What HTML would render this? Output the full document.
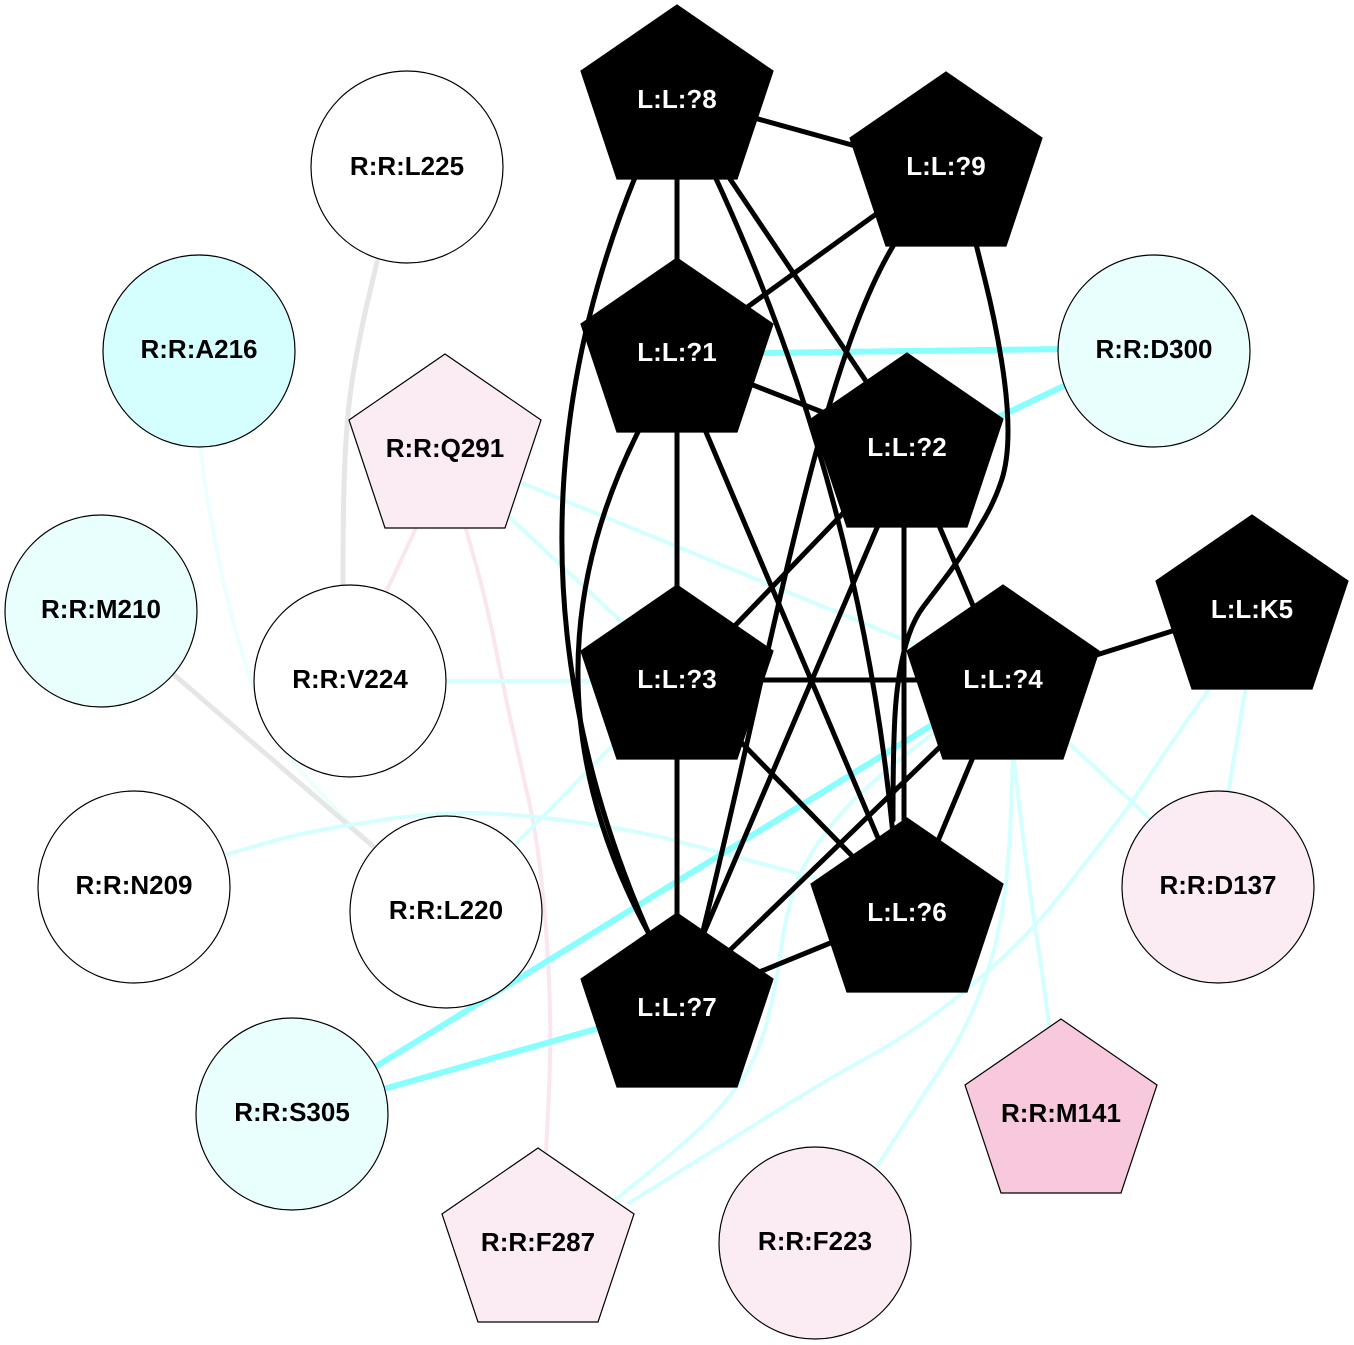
<!DOCTYPE html>
<html><head><meta charset="utf-8"><style>
html,body{margin:0;padding:0;background:#fff;}
svg{display:block;}
text{font-family:"Liberation Sans",Arial,sans-serif;font-weight:bold;font-size:26px;text-anchor:middle;}
</style></head><body>
<svg width="1354" height="1345" viewBox="0 0 1354 1345" xmlns="http://www.w3.org/2000/svg">
<rect width="1354" height="1345" fill="#fff"/>
<g fill="none" stroke-linecap="round" stroke-linejoin="round">
<!-- faint / light edges -->
<path stroke="#ecffff" stroke-width="4" d="M200,445 L203.5,472.5 Q207,500 218.5,558.5 Q230,617 249,675 Q268,733 297,766.5 Q326,800 372,845"/>
<path stroke="#e6e6e6" stroke-width="5" d="M377,262 L369.5,293.5 Q362,325 356,357.5 Q350,390 347.5,420 Q345,450 344,485 Q343,520 343,588"/>
<line stroke="#e6e6e6" stroke-width="5" x1="172" y1="673" x2="375" y2="848"/>
<line stroke="#fbe6ef" stroke-width="4" x1="418" y1="524" x2="386" y2="592"/>
<path stroke="#fbe6ef" stroke-width="4" d="M465,526 L475.5,563 Q486,600 496,650 Q506,700 514,735 Q522,770 529,801.5 Q536,833 541,876.5 Q546,920 548.5,970 Q551,1020 550,1060 Q549,1100 546,1150"/>
<line stroke="#d4ffff" stroke-width="4" x1="505" y1="476" x2="912" y2="643"/>
<line stroke="#d4ffff" stroke-width="4" x1="505" y1="513" x2="625" y2="625"/>
<line stroke="#d4ffff" stroke-width="4" x1="440" y1="681" x2="590" y2="681"/>
<line stroke="#d4ffff" stroke-width="4" x1="508" y1="852" x2="618" y2="740"/>
<path stroke="#d4ffff" stroke-width="4" d="M225,855 L262.5,844 Q300,833 340,826.5 Q380,820 400.5,817.5 Q421,815 450.5,813.5 Q480,812 520,815.5 Q560,819 603.5,826 Q647,833 682.5,842.5 Q718,852 815,878"/>
<line stroke="#d4ffff" stroke-width="4" x1="1060" y1="735" x2="1160" y2="828"/>
<line stroke="#d4ffff" stroke-width="4" x1="1247" y1="680" x2="1227" y2="800"/>
<path stroke="#d4ffff" stroke-width="4" d="M1013,750 L1017.5,790 Q1022,830 1027.5,872 Q1033,914 1037.5,942 Q1042,970 1049,1025"/>
<path stroke="#d4ffff" stroke-width="4" d="M1013,755 L1011.5,799 Q1010,843 1006.5,878 Q1003,913 995,945.5 Q987,978 973.5,1009 Q960,1040 940,1070 Q920,1100 878,1165"/>
<path stroke="#d4ffff" stroke-width="4" d="M940,728 L910,751.5 Q880,775 857.5,796.5 Q835,818 817.5,844 Q800,870 792.5,895 Q785,920 780.5,953 Q776,986 768,1018 Q760,1050 747,1071.5 Q734,1093 712,1116.5 Q690,1140 615,1200"/>
<path stroke="#d4ffff" stroke-width="4" d="M1212,685 L1191,715 Q1170,745 1149.5,776 Q1129,807 1104.5,838.5 Q1080,870 1058.5,897.5 Q1037,925 1005,955.5 Q973,986 936.5,1013 Q900,1040 867.5,1057.5 Q835,1075 782.5,1107.5 Q730,1140 629,1203"/>
<!-- strong cyan -->
<line stroke="#88ffff" stroke-width="6" x1="760" y1="353" x2="1065" y2="349"/>
<line stroke="#88ffff" stroke-width="6" x1="990" y1="421" x2="1070" y2="383"/>
<line stroke="#88ffff" stroke-width="6" x1="370" y1="1070" x2="940" y2="720"/>
<line stroke="#88ffff" stroke-width="6" x1="380" y1="1090" x2="610" y2="1025"/>
<!-- black edges -->
<g stroke="#000" stroke-width="5">
<line x1="740" y1="114" x2="870" y2="150"/>
<line x1="677" y1="170" x2="677" y2="270"/>
<path d="M636,175 Q482,552 648,932"/>
<path d="M640,428 Q512,680 648,932"/>
<path d="M712,170 Q860,487 893,835"/>
<line x1="722" y1="167" x2="880" y2="402"/>
<line x1="890" y1="204" x2="735" y2="316"/>
<path d="M898,238 C820,360 775,640 702,935"/>
<path d="M975,240 L985,280 Q995,320 1001.5,360.5 Q1008,401 1008,431 Q1008,461 1001.5,480.5 Q995,500 985,517.5 Q975,535 965,550 Q955,565 945.5,577.5 Q936,590 923.5,606.5 Q911,623 904,651.5 Q897,680 895,715 Q893,750 893,820"/>
<line x1="740" y1="380" x2="835" y2="417"/>
<line x1="677" y1="420" x2="677" y2="600"/>
<line x1="703" y1="425" x2="881" y2="845"/>
<line x1="850" y1="506" x2="725" y2="636"/>
<line x1="882" y1="516" x2="700" y2="942"/>
<line x1="904" y1="520" x2="904" y2="830"/>
<line x1="935" y1="516" x2="980" y2="622"/>
<line x1="760" y1="680" x2="920" y2="680"/>
<line x1="677" y1="750" x2="677" y2="925"/>
<line x1="735" y1="736" x2="860" y2="864"/>
<line x1="976" y1="750" x2="935" y2="848"/>
<line x1="945" y1="742" x2="726" y2="954"/>
<line x1="1090" y1="657" x2="1185" y2="627"/>
<line x1="845" y1="937" x2="752" y2="975"/>
</g>
</g>
<!-- circles -->
<g stroke="#000" stroke-width="1.2">
<circle cx="407" cy="167" r="96" fill="#ffffff"/>
<circle cx="199" cy="351" r="96" fill="#d5ffff"/>
<circle cx="1154" cy="351" r="96" fill="#e8fffe"/>
<circle cx="101" cy="611" r="96" fill="#e8fffe"/>
<circle cx="350" cy="681" r="96" fill="#ffffff"/>
<circle cx="134" cy="887" r="96" fill="#ffffff"/>
<circle cx="446" cy="912" r="96" fill="#ffffff"/>
<circle cx="1218" cy="887" r="96" fill="#fbebf3"/>
<circle cx="292" cy="1114" r="96" fill="#e8fffe"/>
<circle cx="815" cy="1243" r="96" fill="#fbebf3"/>
<!-- pentagons -->
<polygon fill="#000" points="677,5 773,71 737,179 617,179 581,71"/>
<polygon fill="#000" points="946,72 1042,138 1006,246 886,246 850,138"/>
<polygon fill="#000" points="677,258 773,324 737,432 617,432 581,324"/>
<polygon fill="#000" points="907,353 1003,419 967,527 847,527 811,419"/>
<polygon fill="#fbebf3" points="445,354 541,420 505,528 385,528 349,420"/>
<polygon fill="#000" points="677,585 773,651 737,759 617,759 581,651"/>
<polygon fill="#000" points="1003,585 1099,651 1063,759 943,759 907,651"/>
<polygon fill="#000" points="1252,515 1348,581 1312,689 1192,689 1156,581"/>
<polygon fill="#000" points="907,818 1003,884 967,992 847,992 811,884"/>
<polygon fill="#000" points="677,913 773,979 737,1087 617,1087 581,979"/>
<polygon fill="#f8c8dc" points="1061,1019 1157,1085 1121,1193 1001,1193 965,1085"/>
<polygon fill="#fbebf3" points="538,1148 634,1214 598,1322 478,1322 442,1214"/>
</g>
<!-- labels -->
<g fill="#000">
<text x="407" y="175">R:R:L225</text>
<text x="199" y="358">R:R:A216</text>
<text x="1154" y="358">R:R:D300</text>
<text x="101" y="618">R:R:M210</text>
<text x="350" y="688">R:R:V224</text>
<text x="134" y="894">R:R:N209</text>
<text x="446" y="919">R:R:L220</text>
<text x="1218" y="894">R:R:D137</text>
<text x="292" y="1121">R:R:S305</text>
<text x="815" y="1250">R:R:F223</text>
<text x="445" y="457">R:R:Q291</text>
<text x="1061" y="1122">R:R:M141</text>
<text x="538" y="1251">R:R:F287</text>
</g>
<g fill="#fff">
<text x="677" y="108">L:L:?8</text>
<text x="946" y="175">L:L:?9</text>
<text x="677" y="361">L:L:?1</text>
<text x="907" y="456">L:L:?2</text>
<text x="677" y="688">L:L:?3</text>
<text x="1003" y="688">L:L:?4</text>
<text x="1252" y="618">L:L:K5</text>
<text x="907" y="921">L:L:?6</text>
<text x="677" y="1016">L:L:?7</text>
</g>
</svg>
</body></html>
